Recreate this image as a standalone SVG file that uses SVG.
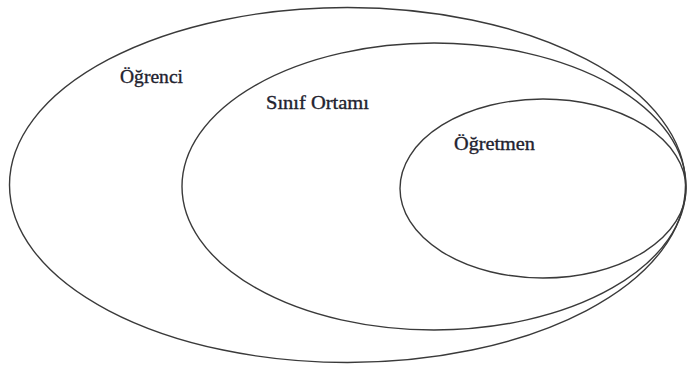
<svg xmlns="http://www.w3.org/2000/svg" width="687" height="367" viewBox="0 0 687 367">
<style>
.set{fill:none;stroke:#3a3a3a;stroke-width:1.4}
.lbl{font-size:19px;fill:#22222e;stroke:#22222e;stroke-width:0.35}
</style>
<rect width="687" height="367" fill="#fff"/>
<g id="ogrenci">
<ellipse class="set" cx="347.5" cy="185" rx="338" ry="177.5"/>
<text class="lbl" font-family="Liberation Serif, Times New Roman, serif" x="120" y="83" textLength="63" lengthAdjust="spacingAndGlyphs">Öğrenci</text>
</g>
<g id="sinif-ortami">
<ellipse class="set" cx="434" cy="186.5" rx="252" ry="143.5"/>
<text class="lbl" font-family="Liberation Serif, Times New Roman, serif" x="266" y="109" textLength="103" lengthAdjust="spacingAndGlyphs">Sınıf Ortamı</text>
</g>
<g id="ogretmen">
<ellipse class="set" cx="543" cy="188.5" rx="143" ry="89.5"/>
<text class="lbl" font-family="Liberation Serif, Times New Roman, serif" x="454" y="150" textLength="81" lengthAdjust="spacingAndGlyphs">Öğretmen</text>
</g>
<g id="connectors"/>
</svg>
